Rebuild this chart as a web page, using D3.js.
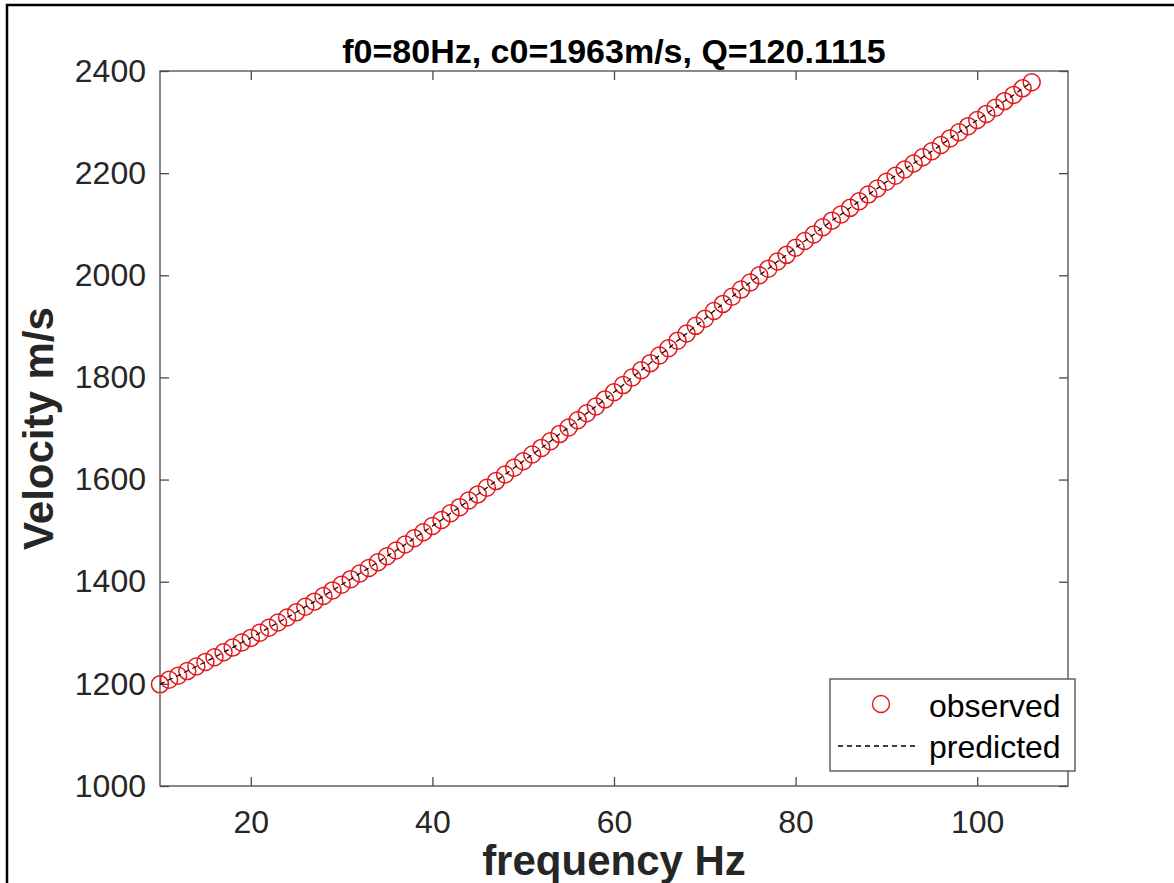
<!DOCTYPE html>
<html lang="en">
<head>
    <meta charset="UTF-8">
    <title>Velocity dispersion</title>
    <script src="https://cdn.jsdelivr.net/npm/d3@7/dist/d3.min.js"></script>
    <style>
        body { margin: 0; background: #fff; }
        text { font-family: "Liberation Sans", Arial, Helvetica, sans-serif; }
    </style>
</head>
<body>
    <svg id="mainsvg" width="1174" height="883"></svg>
    <script>
        // frequency (Hz)
        const freqHz = [10,11,12,13,14,15,16,17,18,19,20,21,22,23,24,25,26,27,28,29,
            30,31,32,33,34,35,36,37,38,39,40,41,42,43,44,45,46,47,48,49,
            50,51,52,53,54,55,56,57,58,59,60,61,62,63,64,65,66,67,68,69,
            70,71,72,73,74,75,76,77,78,79,80,81,82,83,84,85,86,87,88,89,
            90,91,92,93,94,95,96,97,98,99,100,101,102,103,104,105,106];
        // observed velocity (m/s)
        const observedVel = [1199,1208,1216,1225,1234,1243,1252,1262,1271,1281,
            1290,1300,1310,1320,1330,1340,1351,1361,1372,1383,
            1394,1405,1416,1427,1438,1450,1461,1473,1485,1497,
            1509,1521,1534,1546,1559,1571,1584,1597,1610,1623,
            1636,1649,1662,1675,1689,1702,1716,1730,1743,1757,
            1771,1785,1800,1814,1828,1843,1857,1872,1886,1901,
            1915,1930,1944,1958,1972,1986,2000,2013,2027,2040,
            2054,2067,2080,2094,2107,2119,2132,2145,2158,2170,
            2183,2195,2207,2219,2231,2243,2255,2268,2280,2292,
            2304,2316,2328,2341,2353,2366,2378];
        // predicted velocity (m/s) - fit lies on top of the observations
        const predictedVel = [1199,1208,1216,1225,1234,1243,1252,1262,1271,1281,
            1290,1300,1310,1320,1330,1340,1351,1361,1372,1383,
            1394,1405,1416,1427,1438,1450,1461,1473,1485,1497,
            1509,1521,1534,1546,1559,1571,1584,1597,1610,1623,
            1636,1649,1662,1675,1689,1702,1716,1730,1743,1757,
            1771,1785,1800,1814,1828,1843,1857,1872,1886,1901,
            1915,1930,1944,1958,1972,1986,2000,2013,2027,2040,
            2054,2067,2080,2094,2107,2119,2132,2145,2158,2170,
            2183,2195,2207,2219,2231,2243,2255,2268,2280,2292,
            2304,2316,2328,2341,2353,2366,2378];
        const xTicks = [20,40,60,80,100];
        const yTicks = [1000,1200,1400,1600,1800,2000,2200,2400];
        const xDomain = [10,110];
        const yDomain = [1000,2400];
        const titleText = "f0=80Hz, c0=1963m/s, Q=120.1115";
        const legendNames = ["observed","predicted"];

        const svg = d3.select("#mainsvg");
        const width = +svg.attr("width");
        const height = +svg.attr("height");
        const margin = {top:71, right:106, bottom:97, left:160};
        const innerWidth = width - margin.left - margin.right;
        const innerHeight = height - margin.top - margin.bottom;
        const axisColor = "#4a4a4a";
        const labelColor = "#262626";
        const red = "#e0191b";

        svg.append("rect").attr("width",width).attr("height",height).attr("fill","#fff");
        // outer figure frame: only left and top edges are in view
        svg.append("path")
            .attr("d",`M7,${height} L7,5 L${width},5`)
            .attr("fill","none").attr("stroke","#000").attr("stroke-width",2.5);

        const xScale = d3.scaleLinear().domain(xDomain).range([0,innerWidth]);
        const yScale = d3.scaleLinear().domain(yDomain).range([innerHeight,0]);

        const g = svg.append("g").attr("id","maingroup")
            .attr("transform",`translate(${margin.left},${margin.top})`);

        const styleAxis = sel => {
            sel.select(".domain").remove();
            sel.selectAll(".tick line").attr("stroke",axisColor).attr("stroke-width",1.3);
            sel.selectAll(".tick text").attr("fill",labelColor).attr("font-size","32px");
        };
        // mirror axes carry ticks only
        const noLabels = sel => { sel.select(".domain").remove(); sel.selectAll(".tick text").remove();
            sel.selectAll(".tick line").attr("stroke",axisColor).attr("stroke-width",1.3); };

        g.append("g").attr("transform",`translate(0,${innerHeight})`)
            .call(d3.axisBottom(xScale).tickValues(xTicks).tickSizeInner(-9).tickSizeOuter(0).tickPadding(24))
            .call(styleAxis);
        g.append("g")
            .call(d3.axisTop(xScale).tickValues(xTicks).tickSizeInner(-9).tickSizeOuter(0))
            .call(noLabels);
        g.append("g")
            .call(d3.axisLeft(yScale).tickValues(yTicks).tickFormat(d3.format("d"))
                .tickSizeInner(-9).tickSizeOuter(0).tickPadding(14))
            .call(styleAxis);
        g.append("g").attr("transform",`translate(${innerWidth},0)`)
            .call(d3.axisRight(yScale).tickValues(yTicks).tickSizeInner(-9).tickSizeOuter(0))
            .call(noLabels);

        g.append("rect").attr("width",innerWidth).attr("height",innerHeight)
            .attr("fill","none").attr("stroke",axisColor).attr("stroke-width",1.3);

        // observed circles
        g.append("g").selectAll("circle").data(freqHz).join("circle")
            .attr("cx",(d,i) => xScale(d))
            .attr("cy",(d,i) => yScale(observedVel[i]))
            .attr("r",8.5)
            .attr("fill","none").attr("stroke",red).attr("stroke-width",1.5);

        // predicted dashed line
        const line = d3.line().x((d,i) => xScale(freqHz[i])).y(d => yScale(d));
        g.append("path").datum(predictedVel)
            .attr("d",line)
            .attr("fill","none").attr("stroke","#000").attr("stroke-width",1.2)
            .attr("stroke-dasharray","5,4");

        // title and axis labels
        svg.append("text").text(titleText)
            .attr("x",margin.left + innerWidth/2).attr("y",63)
            .attr("text-anchor","middle").attr("font-weight","bold")
            .attr("font-size","34px").attr("fill","#000");
        svg.append("text").text("frequency Hz")
            .attr("x",margin.left + innerWidth/2).attr("y",875)
            .attr("text-anchor","middle").attr("font-weight","bold")
            .attr("font-size","42px").attr("fill",labelColor);
        svg.append("text").text("Velocity m/s")
            .attr("transform",`translate(53,${margin.top + innerHeight/2}) rotate(-90)`)
            .attr("text-anchor","middle").attr("font-weight","bold")
            .attr("font-size","42px").attr("fill",labelColor);

        // legend
        const lg = svg.append("g").attr("transform","translate(830,679)");
        lg.append("rect").attr("width",245).attr("height",92)
            .attr("fill","#fff").attr("stroke",axisColor).attr("stroke-width",1.3);
        lg.append("circle").attr("cx",51).attr("cy",25).attr("r",8.5)
            .attr("fill","none").attr("stroke",red).attr("stroke-width",1.4);
        lg.append("line").attr("x1",8).attr("x2",89).attr("y1",67).attr("y2",67)
            .attr("stroke","#000").attr("stroke-width",1.3).attr("stroke-dasharray","5,4");
        lg.selectAll("text.leg").data(legendNames).join("text").attr("class","leg")
            .text(d => d)
            .attr("x",99).attr("y",(d,i) => 38 + i*41)
            .attr("font-size","32px").attr("fill","#000");
    </script>
</body>
</html>
